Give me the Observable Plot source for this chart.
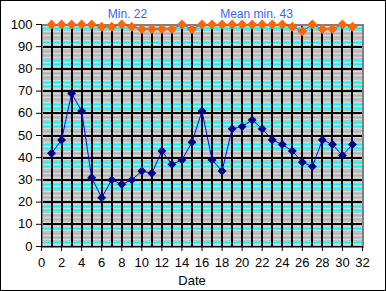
<!DOCTYPE html>
<html>
<head>
<meta charset="utf-8">
<script src="https://cdn.jsdelivr.net/npm/d3@7"></script>
<script src="https://cdn.jsdelivr.net/npm/@observablehq/plot@0.6"></script>
<style>
  html, body { margin: 0; padding: 0; background: white; }
  #chart svg { display: block; outline: 1px solid black; outline-offset: -1px; }
</style>
</head>
<body>
<div id="chart"></div>
<script>
const days = [1,2,3,4,5,6,7,8,9,10,11,12,13,14,15,16,17,18,19,20,21,22,23,24,25,26,27,28,29,30,31];
const lowValues = [42,48,69,61,31,22,30,28,30,34,33,43,37,39,47,61,39,34,53,54,57,53,48,46,43,38,36,48,46,41,46];
const highValues = [100,100,100,100,100,99,99,100,99,98,98,98,98,100,98,100,100,100,100,100,100,100,100,100,99,97,100,98,98,100,99];
const xTicks = [0,2,4,6,8,10,12,14,16,18,20,22,24,26,28,30,32];
const yTicks = [0,10,20,30,40,50,60,70,80,90,100];
const minorEven = [2,4,6,8,12,14,16,18,22,24,26,28,32,34,36,38,42,44,46,48,52,54,56,58,62,64,66,68,72,74,76,78,82,84,86,88,92,94,96,98];
const minorOdd = [1,3,5,7,9,11,13,15,17,19,21,23,25,27,29,31,33,35,37,39,41,43,45,47,49,51,53,55,57,59,61,63,65,67,69,71,73,75,77,79,81,83,85,87,89,91,93,95,97,99];
const annotations = ["Min. 22", "Mean min. 43"];
const xLabel = "Date";

const data = days.map((d, i) => ({day: d, low: lowValues[i], high: highValues[i]}));

const plot = Plot.plot({
  width: 386,
  height: 291,
  marginLeft: 41,
  marginRight: 24,
  marginTop: 24,
  marginBottom: 45,
  style: {fontFamily: "'Liberation Sans', Arial, sans-serif", fontSize: "12px", color: "black", background: "white", overflow: "visible"},
  x: {domain: [0, 32]},
  y: {domain: [0, 100]},
  marks: [
    Plot.frame({fill: "#c0c0c0"}),
    Plot.ruleY(minorOdd, {stroke: "#d8d8d8", strokeWidth: 1, shapeRendering: "crispEdges"}),
    Plot.ruleY(minorEven, {stroke: "#00ffff", strokeWidth: 1, shapeRendering: "crispEdges"}),
    Plot.ruleY(yTicks.slice(1, -1), {stroke: "black", strokeWidth: 2, shapeRendering: "crispEdges"}),
    Plot.ruleX(days, {stroke: "black", strokeWidth: 2, shapeRendering: "crispEdges"}),
    Plot.frame({stroke: "#808080", strokeWidth: 2, shapeRendering: "crispEdges"}),
    Plot.ruleX([0], {stroke: "black", strokeWidth: 1.5, shapeRendering: "crispEdges"}),
    Plot.ruleY([0], {stroke: "black", strokeWidth: 1.5, shapeRendering: "crispEdges"}),
    Plot.axisX({ticks: xTicks, tickSize: 5, tickPadding: 6, label: null, fontSize: 13, tickFormat: d => String(d)}),
    Plot.axisY({ticks: yTicks, tickSize: 5, tickPadding: 4, label: null, fontSize: 13}),
    Plot.text([xLabel], {frameAnchor: "bottom", dx: -10, dy: 38, fontSize: 13, fill: "black"}),
    Plot.text([annotations[0]], {frameAnchor: "top-left", lineAnchor: "middle", dx: 86, dy: -10, fontSize: 12, fill: "#3366ff", textAnchor: "middle"}),
    Plot.text([annotations[1]], {frameAnchor: "top-left", lineAnchor: "middle", dx: 215, dy: -10, fontSize: 12, fill: "#3366ff", textAnchor: "middle"}),
    Plot.line(data, {x: "day", y: "low", stroke: "#0000ff", strokeWidth: 1}),
    Plot.dot(data, {x: "day", y: "low", symbol: "diamond2", r: 4, fill: "#000080", stroke: "none"}),
    Plot.line(data, {x: "day", y: "high", stroke: "#3366ff", strokeWidth: 1}),
    Plot.dot(data, {x: "day", y: "high", symbol: "diamond2", r: 4.5, fill: "#ff6600", stroke: "none"})
  ]
});
document.getElementById("chart").appendChild(plot);
</script>
</body>
</html>
